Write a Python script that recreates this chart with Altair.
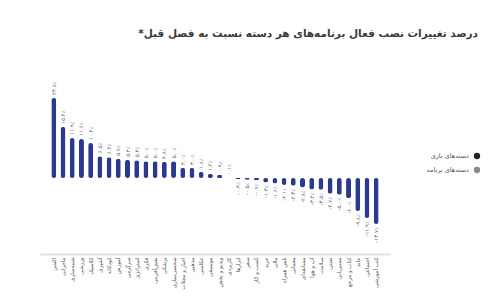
import altair as alt
import pandas as pd

categories = [
    "اکشن", "ماجرایی", "شبیه‌سازی", "ورزشی", "کلاسیک", "آشپزی", "کودکانه",
    "آموزش", "سرگرمی", "استراتژی", "فکری", "نقش‌آفرینی", "پزشکی", "شخصی‌سازی",
    "اخبار و مجلات", "مذهبی", "عکاسی", "موسیقی", "ویدیو و پخش", "کاربردی",
    "ابزارها", "سفر", "کسب و کار", "خرید", "مالی", "تلفن همراه", "معمایی",
    "مسابقه‌ای", "آب و هوا", "سلامت", "تفننی", "مسیریابی", "کتاب و مرجع",
    "خانه", "اجتماعی", "کتب آموزشی"
]
values = [
    23.8, 15.2, 11.9, 11.6, 10.4, 6.5, 6.2, 5.7, 5.4, 5.3, 5.0, 5.0, 4.8, 5.0,
    3.0, 3.0, 1.8, 1.2, 0.9, 0.1,
    -0.3, -0.5, -0.7, -1.3, -1.6, -2.1, -2.3, -2.8, -3.4, -3.5, -4.7, -5.0,
    -6.0, -9.8, -11.9, -13.7
]
legend_labels = ["دسته‌های بازی", "دسته‌های برنامه"]
legend_colors = ["#222222", "#8a8a8a"]
title_text = "\u200fدرصد تغییرات نصب فعال برنامه‌های هر دسته نسبت به فصل قبل*\u200f"

def fa_num(v):
    s = f"{abs(v):.1f}".translate(str.maketrans("0123456789", "۰۱۲۳۴۵۶۷۸۹"))
    return ("-" if v < 0 else "") + s + "٪"

df = pd.DataFrame({
    "cat": categories,
    "val": values,
    "label": [fa_num(v) for v in values],
})
leg = pd.DataFrame({"kind": legend_labels})

FONT = "DejaVu Sans"
x_enc = alt.X("cat:N", sort=categories,
              scale=alt.Scale(paddingOuter=1, paddingInner=0),
              axis=alt.Axis(title=None, labelAngle=-90, labelAlign="right",
                            labelBaseline="middle", labelFontSize=5.5,
                            labelColor="#555", labelFont=FONT, ticks=False,
                            domainColor="#e2e2e2", domainWidth=2, labelPadding=3))
y_scale = alt.Scale(domain=[-22.6, 35.1], nice=False, zero=True)

bars = alt.Chart(df).mark_bar(size=5, cornerRadius=2.5, color="#2b3990").encode(
    x=x_enc,
    y=alt.Y("val:Q", scale=y_scale, axis=None),
)

pos = alt.Chart(df).transform_filter("datum.val >= 0").mark_text(
    angle=270, align="left", baseline="middle", dx=3, fontSize=5.5,
    color="#6a6a6a", font=FONT
).encode(x=alt.X("cat:N", sort=categories), y=alt.Y("val:Q", scale=y_scale), text="label:N")

neg = alt.Chart(df).transform_filter("datum.val < 0").mark_text(
    angle=270, align="right", baseline="middle", dx=-3, fontSize=5.5,
    color="#6a6a6a", font=FONT
).encode(x=alt.X("cat:N", sort=categories), y=alt.Y("val:Q", scale=y_scale), text="label:N")

legend_layer = alt.Chart(leg).mark_circle(opacity=0).encode(
    color=alt.Color("kind:N", sort=legend_labels,
                    scale=alt.Scale(domain=legend_labels, range=legend_colors),
                    legend=alt.Legend(title=None, orient="none", legendX=433, legendY=92,
                                      symbolType="circle", symbolSize=40, symbolOpacity=1,
                                      labelAlign="right",
                                      labelOffset={"expr": "-12"}, labelFontSize=6.5,
                                      labelColor="#555",
                                      labelFont=FONT, rowPadding=6))
)

chart = alt.layer(bars, pos, neg, legend_layer).properties(
    width=350, height=194,
    autosize=alt.AutoSizeParams(type="none"),
    padding={"left": 40, "top": 60, "right": 110, "bottom": 46},
    title=alt.TitleParams(
        title_text,
        anchor="end", frame="group", dx=88, offset=21, fontSize=10.5, font=FONT,
        fontWeight="bold", color="#3a3a3a"),
).configure_view(stroke="transparent", strokeWidth=0)

chart.save("out.html", embed_options={"renderer": "svg", "actions": False})
